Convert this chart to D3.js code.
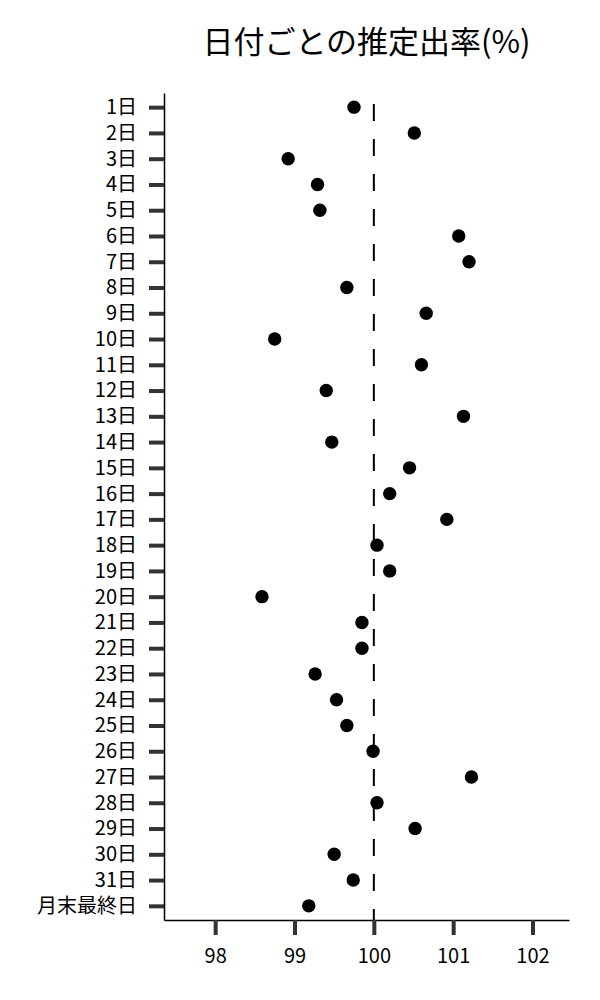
<!DOCTYPE html>
<html>
<head>
<meta charset="utf-8">
<script src="https://cdn.jsdelivr.net/npm/d3@7"></script>
<style>
  body { margin: 0; background: #fff; }
  svg text { font-family: "Noto Sans CJK JP", "Noto Sans", sans-serif; fill: #000; }
</style>
</head>
<body>
<div id="chart"></div>
<script>
/* 日付ごとの推定出率 — dot plot */
const days = ['1日','2日','3日','4日','5日','6日','7日','8日','9日','10日',
  '11日','12日','13日','14日','15日','16日','17日','18日','19日','20日',
  '21日','22日','23日','24日','25日','26日','27日','28日','29日','30日','31日','月末最終日'];
const rates = [99.75,100.51,98.92,99.29,99.32,101.07,101.20,99.66,100.66,98.75,
  100.60,99.40,101.13,99.47,100.45,100.20,100.92,100.04,100.20,98.59,
  99.85,99.85,99.26,99.53,99.66,99.99,101.23,100.04,100.52,99.50,99.74,99.18];
const xTicks = [98, 99, 100, 101, 102];
const refValue = 100;

const W = 600, H = 1000;
const mLeft = 164, mRight = 569, mTop = 93, mBottom = 920;

const svg = d3.select('#chart').append('svg').attr('width', W).attr('height', H);

const x = d3.scaleLinear().domain([97.355, 102.46]).range([mLeft, mRight]);
const y = d3.scalePoint().domain(days).range([mTop, mBottom]).padding(0.55);

/* title */
svg.append('text')
  .attr('x', (mLeft + mRight) / 2).attr('y', 53)
  .attr('text-anchor', 'middle')
  .style('font-size', '31px')
  .text('日付ごとの推定出率(%)');

/* axes */
const yAxis = svg.append('g').attr('transform', `translate(${mLeft},0)`)
  .call(d3.axisLeft(y).tickSize(15).tickSizeOuter(0).tickPadding(12));
const xAxis = svg.append('g').attr('transform', `translate(0,${mBottom})`)
  .call(d3.axisBottom(x).tickValues(xTicks).tickFormat(d3.format('d')).tickSize(15).tickSizeOuter(0).tickPadding(14));

[yAxis, xAxis].forEach(a => {
  a.select('.domain').attr('stroke', '#000').attr('stroke-width', 1.5);
  a.selectAll('.tick line').attr('stroke', '#333').attr('stroke-width', 4);
  a.selectAll('.tick text').style('font-size', '20px').attr('fill', '#000');
});

/* reference line */
svg.append('line')
  .attr('x1', x(refValue)).attr('x2', x(refValue))
  .attr('y1', 104).attr('y2', mBottom)
  .attr('stroke', '#000').attr('stroke-width', 2)
  .attr('stroke-dasharray', '17,18');

/* dots */
svg.append('g').selectAll('circle')
  .data(days.map((d, i) => ({day: d, v: rates[i]})))
  .join('circle')
  .attr('cx', d => x(d.v)).attr('cy', d => y(d.day))
  .attr('r', 6.7).attr('fill', '#000');
</script>
</body>
</html>
